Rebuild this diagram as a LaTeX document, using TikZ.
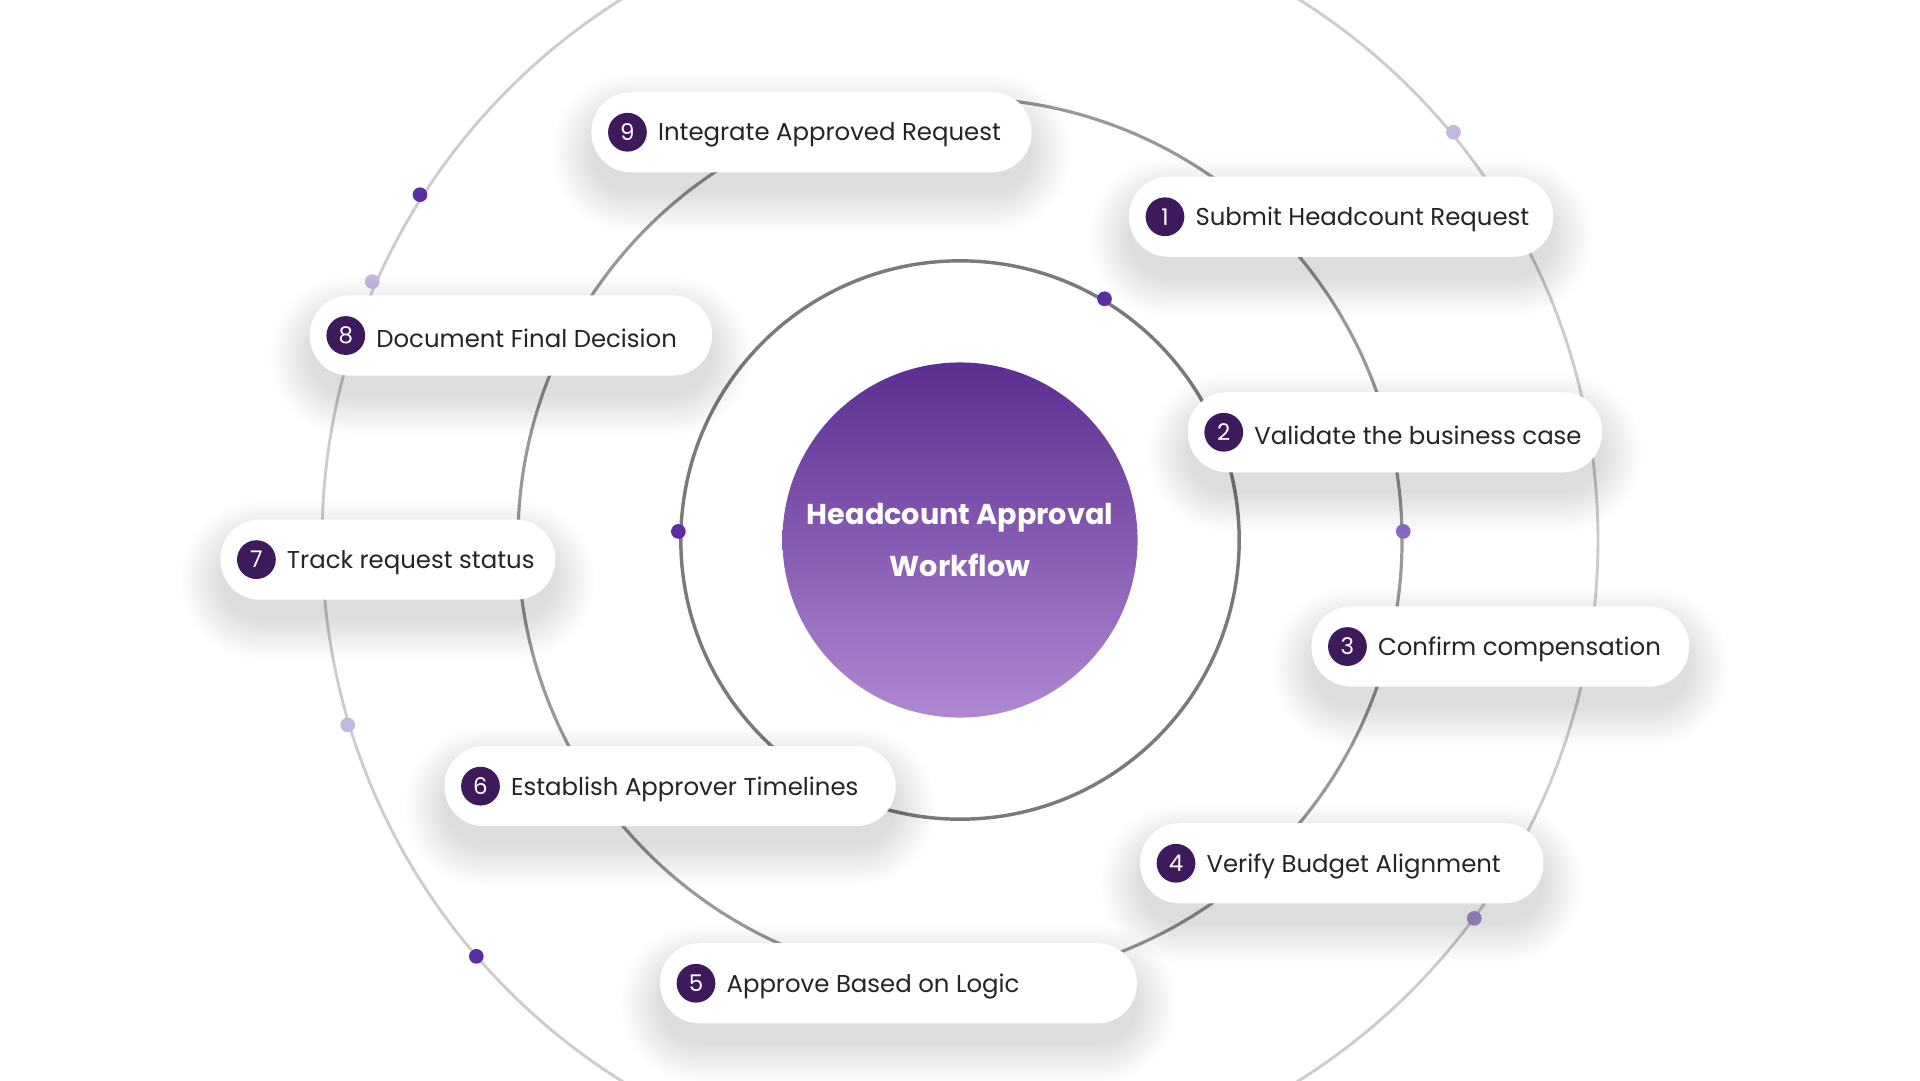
\documentclass[tikz,border=0pt]{standalone}
\usepackage{fontspec}
\setmainfont{Poppins}
\usepackage{xcolor}
\usetikzlibrary{positioning,calc}
\definecolor{numpurple}{HTML}{3D1A5B}
\definecolor{textdark}{HTML}{242424}
\definecolor{hubtop}{HTML}{5B2E91}
\definecolor{hubbot}{HTML}{B087D2}
\definecolor{dotdark}{HTML}{5B2D9E}
\definecolor{dotmid}{HTML}{8A67C4}
\definecolor{dotlight}{HTML}{C3B6DF}
\tikzset{
  stepbox/.style={
    rectangle, anchor=west, minimum height=1.95cm, inner sep=0pt
  },
  stepfill/.style={fill=white, rounded corners=0.97cm},
  stepshadow/.style={fill=black, opacity=0.009},
  stepnum/.style={
    circle, fill=numpurple, text=white, minimum size=0.95cm,
    inner sep=0pt, font=\fontsize{16}{16}\selectfont
  },
  steplabel/.style={
    text=textdark, font=\fontsize{17}{20}\selectfont, inner sep=0pt,
    yshift=-0.07cm
  },
  hub/.style={
    circle, minimum size=8.7cm, inner sep=0pt,
    top color=hubtop, bottom color=hubbot,
    text=white, align=center,
    font=\fontsize{20}{36}\selectfont\bfseries
  },
  ringdot/.style={circle, inner sep=0pt, minimum size=0.36cm},
  ring/.style={line width=2pt},
}

\begin{document}
\begin{tikzpicture}[x=0.03cm, y=-0.03cm]
  \useasboundingbox (0,0) rectangle (1568,882);
  \clip (0,0) rectangle (1568,882);
  \fill[white] (0,0) rectangle (1568,882);

  % Rings
  \coordinate (c) at (784,441);
  \draw[ring, draw=black!20] (c) circle[radius=521];
  \draw[ring, draw=black!40, line width=2.2pt] (c) circle[radius=361];
  \draw[ring, draw=black!52, line width=2.4pt] (c) circle[radius=228];

  % Dots on the rings
  \node[ringdot, fill=dotdark]  (d1) at (902,244) {};
  \node[ringdot, fill=dotdark]  (d2) at (554,434) {};
  \node[ringdot, fill=dotmid]   (d3) at (1146,434) {};
  \node[ringdot, fill=dotdark]  (d4) at (343,159) {};
  \node[ringdot, fill=dotlight] (d5) at (304,230) {};
  \node[ringdot, fill=dotlight] (d6) at (1187,108) {};
  \node[ringdot, fill=dotlight] (d7) at (284,592) {};
  \node[ringdot, fill=dotdark]  (d8) at (389,781) {};
  \node[ringdot, fill=dotmid!70] (d9) at (1204,750) {};

  % Hub
  \node[hub] (hub) at (c) {Headcount Approval\\Workflow};

  % Steps
  \foreach \i/\x/\y/\w/\txt in {
      1/922/177/10.38/Submit Headcount Request,
      2/970/353/10.14/Validate the business case,
      3/1071/528/9.24/Confirm compensation,
      4/931/705/9.87/Verify Budget Alignment,
      5/539/803/11.67/Approve Based on Logic,
      6/363/642/11.04/Establish Approver Timelines,
      7/180/457/8.19/Track request status,
      8/253/274/9.84/Document Final Decision,
      9/483/108/10.77/Integrate Approved Request}{
    \node[stepbox, minimum width=\w cm] (s\i) at (\x,\y) {};
    % soft shadow below the pill
    \foreach \e in {0.00,0.06,...,0.96}{
      \fill[stepshadow, rounded corners=0.97cm+\e cm]
        ($(s\i.south west)+(-\e cm,-\e cm-0.5cm)$) rectangle
        ($(s\i.north east)+(\e cm,\e cm-0.5cm)$);
    }
    \fill[stepfill] (s\i.south west) rectangle (s\i.north east);
    \node[stepnum, right=0.4cm of s\i.west] (n\i) {\i};
    \node[steplabel, right=0.26cm of n\i] (l\i) {\txt};
  }

\end{tikzpicture}
\end{document}
